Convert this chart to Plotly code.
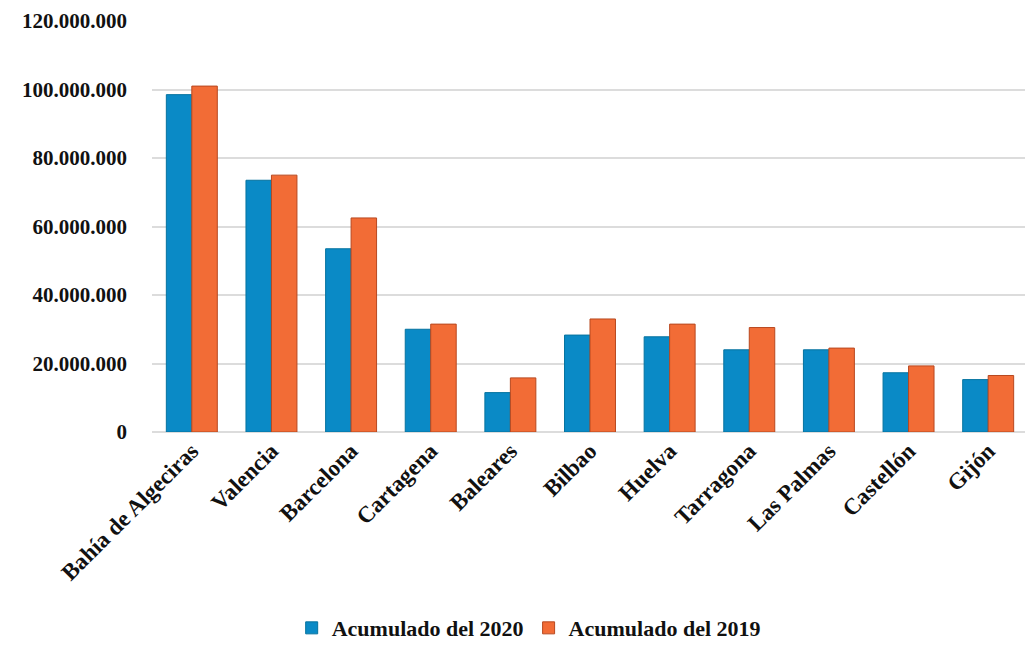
import plotly.graph_objects as go

categories = ["Bahía de Algeciras", "Valencia", "Barcelona", "Cartagena", "Baleares",
              "Bilbao", "Huelva", "Tarragona", "Las Palmas", "Castellón", "Gijón"]
acum_2020 = [98500000, 73500000, 53500000, 30000000, 11500000, 28300000,
             27800000, 24000000, 24000000, 17300000, 15300000]
acum_2019 = [101000000, 75000000, 62500000, 31500000, 15800000, 33000000,
             31500000, 30500000, 24500000, 19300000, 16500000]
y_ticks = [0, 20000000, 40000000, 60000000, 80000000, 100000000, 120000000]

font_family = "Liberation Serif"

fig = go.Figure()
fig.add_trace(go.Bar(name="Acumulado del 2020", x=categories, y=acum_2020,
                     marker=dict(color="#0a8ac6", line=dict(color="#06739f", width=1))))
fig.add_trace(go.Bar(name="Acumulado del 2019", x=categories, y=acum_2019,
                     marker=dict(color="#f26c36", line=dict(color="#b8481f", width=1))))

fig.update_layout(
    width=1033, height=646,
    margin=dict(l=144, r=13, t=13, b=222, autoexpand=False),
    paper_bgcolor="white", plot_bgcolor="white",
    barmode="group", bargap=0.36, bargroupgap=0.0,
    separators=",.",
    font=dict(family=font_family, size=19, color="#111111"),
    showlegend=True,
    legend=dict(orientation="h", x=0.43, xanchor="center", y=-0.477, yanchor="middle",
                font=dict(family=font_family, size=22, color="#111111", weight="bold"),
                itemwidth=30, traceorder="normal"),
)
fig.update_xaxes(tickangle=-45, showgrid=False, showline=False, ticks="", automargin=False,
                 tickfont=dict(family=font_family, size=23, color="#111111", weight="bold"))
fig.update_yaxes(range=[0, 120000000], tickvals=y_ticks, tickformat=",d", automargin=False,
                 showgrid=True, gridcolor="#dcdcdc", gridwidth=2, zeroline=True,
                 zerolinecolor="#dcdcdc", zerolinewidth=2, showline=False, ticks="",
                 ticklabelstandoff=24,
                 tickfont=dict(family=font_family, size=21, color="#111111", weight="bold"))

fig.write_html("out.html")
